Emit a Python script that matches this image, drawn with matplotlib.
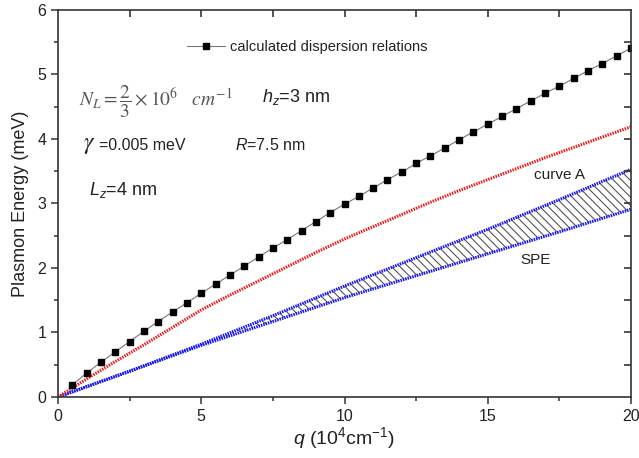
import matplotlib
matplotlib.use("Agg")
import matplotlib.pyplot as plt
from matplotlib.ticker import MultipleLocator

plt.rcParams["font.family"] = ["Liberation Sans", "DejaVu Sans"]
plt.rcParams["mathtext.fontset"] = "custom"
plt.rcParams["mathtext.rm"] = "Liberation Sans"
plt.rcParams["mathtext.it"] = "Liberation Sans:italic"
plt.rcParams["hatch.linewidth"] = 0.8

# calculated dispersion relations (squares)
q_calc = [0.5, 1.0, 1.5, 2.0, 2.5, 3.0, 3.5, 4.0, 4.5, 5.0,
          5.5, 6.0, 6.5, 7.0, 7.5, 8.0, 8.5, 9.0, 9.5, 10.0,
          10.5, 11.0, 11.5, 12.0, 12.5, 13.0, 13.5, 14.0, 14.5, 15.0,
          15.5, 16.0, 16.5, 17.0, 17.5, 18.0, 18.5, 19.0, 19.5, 20.0]
e_calc = [0.19, 0.37, 0.54, 0.70, 0.86, 1.02, 1.17, 1.32, 1.46, 1.61,
          1.75, 1.89, 2.03, 2.17, 2.31, 2.44, 2.58, 2.72, 2.86, 2.99,
          3.11, 3.24, 3.37, 3.49, 3.62, 3.74, 3.86, 3.99, 4.11, 4.23,
          4.35, 4.47, 4.59, 4.71, 4.82, 4.94, 5.06, 5.17, 5.29, 5.41]

# red dotted curve
q_red = [0, 1, 2, 3, 4, 5, 6, 7, 8, 9, 10, 11, 12, 13, 14, 15, 16, 17, 18, 19, 20]
e_red = [0, 0.28, 0.55, 0.81, 1.08, 1.35, 1.58, 1.80, 2.02, 2.24, 2.45,
         2.64, 2.83, 3.02, 3.20, 3.37, 3.54, 3.71, 3.87, 4.03, 4.19]

# SPE boundaries (blue)
q_spe = [0, 2.5, 5, 7.5, 10, 12.5, 15, 17.5, 20]
e_upper = [0, 0.40, 0.82, 1.26, 1.72, 2.16, 2.60, 3.06, 3.53]
e_lower = [0, 0.40, 0.80, 1.17, 1.54, 1.88, 2.22, 2.56, 2.91]

fig = plt.figure(figsize=(6.39, 4.58), dpi=100)
rect = [0.0908, 0.1332, 0.8967, 0.8450]
ax = fig.add_axes(rect)

ax.fill_between(q_spe, e_lower, e_upper, facecolor="none", edgecolor="#555555",
                hatch="\\\\\\\\", linewidth=0)
ax.plot(q_spe, e_upper, color="#1a1ae6", lw=2.2, ls=(0, (0.5, 0.3)))
ax.plot(q_spe, e_lower, color="#1a1ae6", lw=2.2, ls=(0, (0.5, 0.3)))
ax.plot(q_red, e_red, color="#e62020", lw=2.2, ls=(0, (0.5, 0.35)))
ax.plot(q_calc, e_calc, color="#777777", lw=0.8, marker="s", ms=5,
        mfc="black", mec="black", label="calculated dispersion relations")

ax.set_xlim(0, 20)
ax.set_ylim(0, 6)
ax.xaxis.set_major_locator(MultipleLocator(5))
ax.xaxis.set_minor_locator(MultipleLocator(2.5))
ax.yaxis.set_major_locator(MultipleLocator(1))
ax.yaxis.set_minor_locator(MultipleLocator(0.5))

for s in ax.spines.values():
    s.set_color("#333333")
    s.set_linewidth(1.2)
ax.tick_params(which="both", direction="out", colors="#333333", labelsize=11.5,
               labelcolor="#222222")
ax.tick_params(which="major", length=5, width=1.1)
ax.tick_params(which="minor", length=3, width=1.1)

# mirrored ticks on top and right, pointing inward
top_x = [2.5, 5, 7.5, 10, 12.5, 15, 17.5]
right_y = [0.5, 1, 1.5, 2, 2.5, 3, 3.5, 4, 4.5, 5, 5.5]
ax2 = fig.add_axes(rect, frameon=False)
ax2.patch.set_visible(False)
ax2.set_xlim(ax.get_xlim())
ax2.set_ylim(ax.get_ylim())
ax2.set_xticks(top_x)
ax2.set_yticks(right_y)
ax2.xaxis.set_ticks_position("top")
ax2.yaxis.set_ticks_position("right")
ax2.tick_params(which="both", direction="in", colors="#333333", width=1.2,
                length=5, labeltop=False, labelright=False)

ax.set_xlabel(r"$q$ (10$^4$cm$^{-1}$)", fontsize=14, color="#222222", labelpad=1)
ax.set_ylabel("Plasmon Energy (meV)", fontsize=13, color="#222222", labelpad=6)

ax.legend(loc="center left", bbox_to_anchor=(0.225, 0.905), frameon=False,
          fontsize=10.5, handlelength=2.6, handletextpad=0.35, borderpad=0,
          borderaxespad=0, labelcolor="#222222")

txt = dict(transform=ax.transAxes, color="#222222", va="center")
ax.text(0.036, 0.762, r"$N_L=\dfrac{2}{3}\times10^6\ \ \ cm^{-1}$", fontsize=14,
        math_fontfamily="stix", **{**txt, "color": "#555555"})
ax.text(0.356, 0.775, r"$h_z$=3 nm", fontsize=13, **txt)
ax.text(0.044, 0.651, r"$\gamma$", fontsize=17, math_fontfamily="stix", **txt)
ax.text(0.072, 0.651, "=0.005 meV", fontsize=11.5, **txt)
ax.text(0.309, 0.651, r"$R$=7.5 nm", fontsize=11.5, **txt)
ax.text(0.054, 0.535, r"$L_z$=4 nm", fontsize=13, **txt)
ax.text(17.5, 3.44, "curve A", fontsize=11, ha="center", va="center", color="#222222")
ax.text(16.68, 2.12, "SPE", fontsize=11, ha="center", va="center", color="#222222")

fig.savefig("out.png", dpi=100)
